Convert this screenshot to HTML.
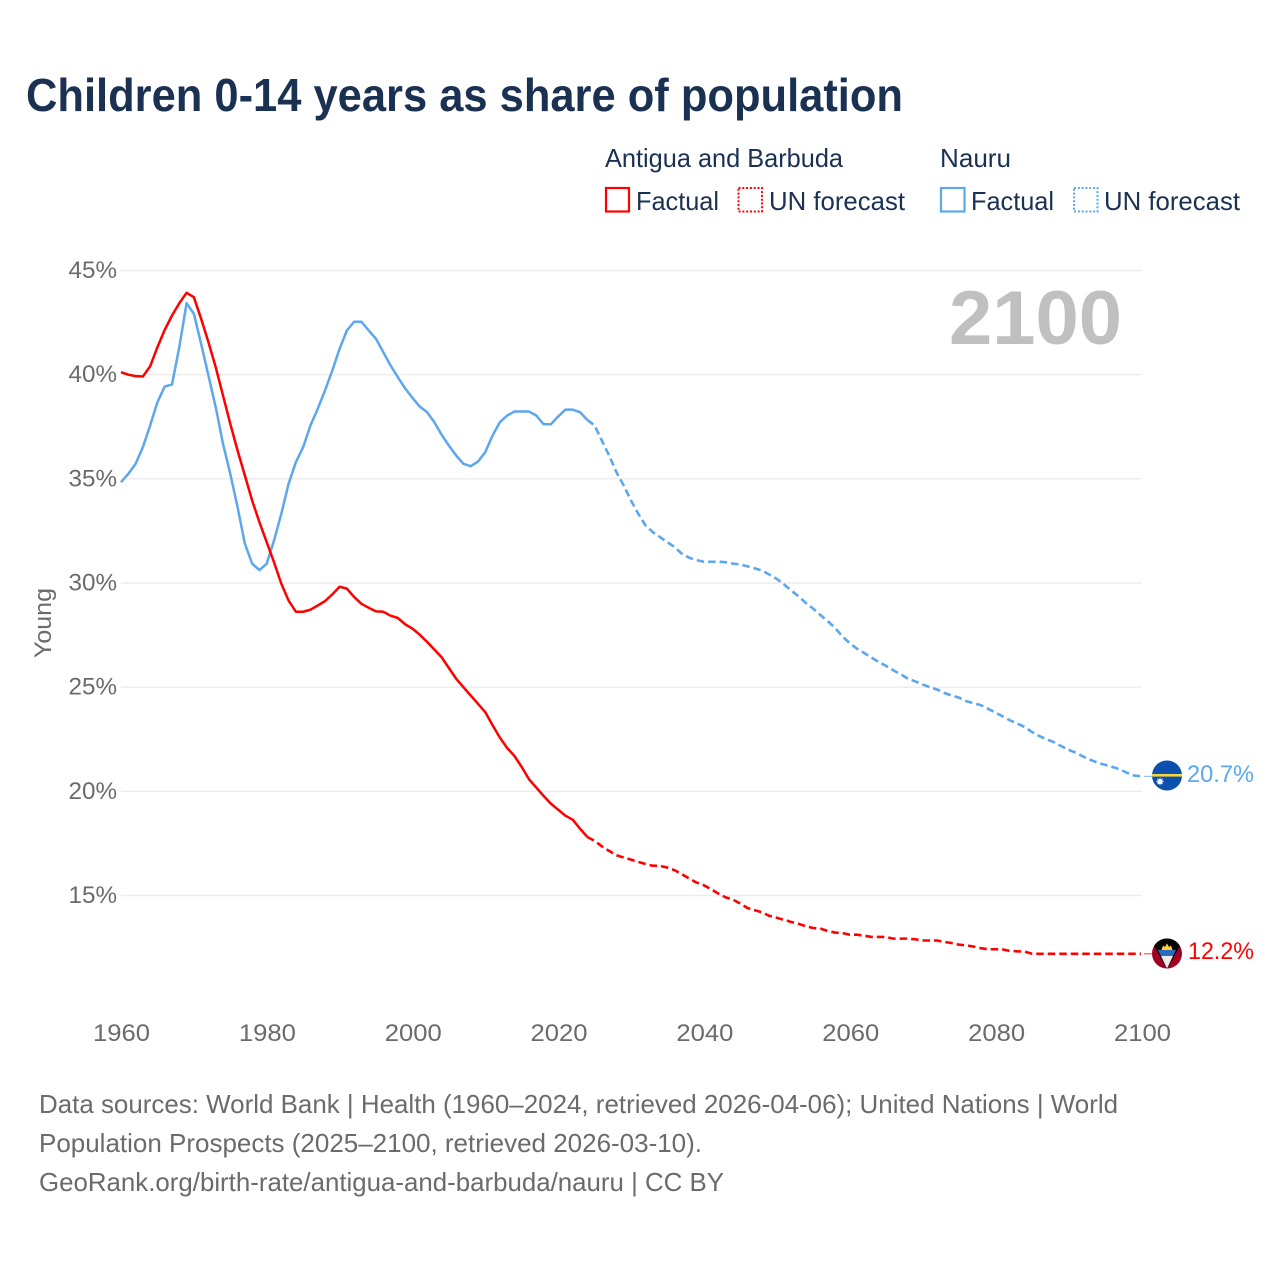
<!DOCTYPE html>
<html lang="en">
<head>
<meta charset="utf-8">
<title>Children 0-14 years as share of population</title>
<style>
html,body{margin:0;padding:0;background:#fff;width:1280px;height:1280px;overflow:hidden}
svg{display:block}
text{font-family:"Liberation Sans",sans-serif}
</style>
</head>
<body>
<svg id="chart" xmlns="http://www.w3.org/2000/svg" width="1280" height="1280" viewBox="0 0 1280 1280">
  <defs>
    <clipPath id="flag-clip-nauru"><circle cx="1167" cy="775.5" r="15"/></clipPath>
    <clipPath id="flag-clip-antigua"><circle cx="1167" cy="953.5" r="15"/></clipPath>
  </defs>
  <text x="26" y="111" font-size="46" font-weight="700" fill="#1a3152" textLength="877" lengthAdjust="spacingAndGlyphs">Children 0-14 years as share of population</text>

  <g>
    <text x="605" y="167" font-size="26" fill="#1a3152" textLength="238" lengthAdjust="spacingAndGlyphs">Antigua and Barbuda</text>
    <text x="940" y="167" font-size="26" fill="#1a3152" textLength="71" lengthAdjust="spacingAndGlyphs">Nauru</text>
    <rect x="606" y="188" width="23" height="23.5" fill="none" stroke="#ff0000" stroke-width="2.2"/>
    <text x="636" y="210" font-size="26" fill="#1a3152" textLength="83" lengthAdjust="spacingAndGlyphs">Factual</text>
    <rect x="738.5" y="188" width="23.5" height="23.5" fill="none" stroke="#ff0000" stroke-width="2" stroke-dasharray="2 1.8"/>
    <text x="769" y="210" font-size="26" fill="#1a3152" textLength="136" lengthAdjust="spacingAndGlyphs">UN forecast</text>
    <rect x="941" y="188" width="23.5" height="23.5" fill="none" stroke="#5ca7ee" stroke-width="2.2"/>
    <text x="971" y="210" font-size="26" fill="#1a3152" textLength="83" lengthAdjust="spacingAndGlyphs">Factual</text>
    <rect x="1074" y="188" width="23.5" height="23.5" fill="none" stroke="#5ca7ee" stroke-width="2" stroke-dasharray="2 1.8"/>
    <text x="1104" y="210" font-size="26" fill="#1a3152" textLength="136" lengthAdjust="spacingAndGlyphs">UN forecast</text>
  </g>

  <g id="grid"></g>
  <g id="y-ticks"></g>
  <g id="x-ticks"></g>
  <text transform="translate(51,623) rotate(-90)" text-anchor="middle" font-size="24" fill="#6b6b6b" textLength="70" lengthAdjust="spacingAndGlyphs">Young</text>
  <text x="949" y="344" font-size="76" font-weight="700" fill="#c0c0c0" textLength="173" lengthAdjust="spacingAndGlyphs">2100</text>

  <g id="series"></g>

  <g clip-path="url(#flag-clip-nauru)">
    <rect x="1152" y="760" width="30" height="31" fill="#0b50ad"/>
    <rect x="1152" y="774" width="30" height="2.6" fill="#f8d33c"/>
    <circle cx="1160" cy="781.500" r="2.6" fill="#ffffff"/>
    <path d="M1160 777.700V785.300M1156.200 781.500H1163.800M1157.300 778.800L1162.700 784.200M1162.700 778.800L1157.300 784.200" stroke="#ffffff" stroke-width="0.8"/>
  </g>
  <g clip-path="url(#flag-clip-antigua)">
    <rect x="1152" y="938" width="30" height="31" fill="#a00024"/>
    <path d="M1152 938H1182V942L1167 969L1152 942Z" fill="#050505"/>
    <path d="M1158 950H1176L1173 956H1161Z" fill="#2c6cc0"/>
    <path d="M1161 956H1173L1167 968.500Z" fill="#ececec"/>
    <path d="M1161.500 950L1163 945.500L1165 947L1167 943.500L1169 947L1171 945.500L1172.500 950Z" fill="#fdcf3f"/>
  </g>

  <text id="value-label-nauru" x="1187" y="782" font-size="24" fill="#5ca7ee" textLength="67" lengthAdjust="spacingAndGlyphs">20.7%</text>
  <text id="value-label-antigua" x="1188" y="959" font-size="24" fill="#ff0000" textLength="66" lengthAdjust="spacingAndGlyphs">12.2%</text>

  <g fill="#6b6b6b" font-size="26">
    <text x="39" y="1113" textLength="1079" lengthAdjust="spacingAndGlyphs">Data sources: World Bank | Health (1960–2024, retrieved 2026-04-06); United Nations | World</text>
    <text x="39" y="1152" textLength="663" lengthAdjust="spacingAndGlyphs">Population Prospects (2025–2100, retrieved 2026-03-10).</text>
    <text x="39" y="1191" textLength="685" lengthAdjust="spacingAndGlyphs">GeoRank.org/birth-rate/antigua-and-barbuda/nauru | CC BY</text>
  </g>
</svg>
<script>
const yTicks = [15, 20, 25, 30, 35, 40, 45];
const xTicks = [1960, 1980, 2000, 2020, 2040, 2060, 2080, 2100];
const factualStartYear = 1960;
const forecastStartYear = 2025;
const antiguaFactual = [40.12,40.0,39.93,39.91,40.4,41.32,42.15,42.84,43.43,43.93,43.72,42.68,41.56,40.36,39.0,37.64,36.36,35.16,33.96,32.92,31.96,31.0,29.97,29.16,28.62,28.62,28.72,28.92,29.13,29.45,29.82,29.73,29.33,29.0,28.81,28.64,28.62,28.43,28.32,28.02,27.81,27.52,27.18,26.81,26.44,25.92,25.41,25.0,24.6,24.2,23.8,23.17,22.58,22.08,21.7,21.17,20.58,20.18,19.78,19.41,19.12,18.83,18.64,18.21,17.81];
const antiguaForecast = [17.62,17.36,17.14,16.93,16.82,16.72,16.61,16.51,16.43,16.42,16.34,16.21,16.02,15.81,15.62,15.49,15.3,15.09,14.91,14.8,14.61,14.4,14.29,14.19,14.02,13.93,13.83,13.73,13.64,13.52,13.44,13.41,13.3,13.22,13.2,13.12,13.12,13.07,13.01,13.01,13.01,12.93,12.93,12.93,12.9,12.84,12.84,12.84,12.77,12.72,12.64,12.61,12.55,12.47,12.42,12.42,12.41,12.34,12.32,12.31,12.21,12.2,12.2,12.2,12.2,12.2,12.2,12.2,12.2,12.2,12.2,12.2,12.2,12.2,12.2,12.2];
const nauruFactual = [34.84,35.24,35.72,36.52,37.56,38.68,39.43,39.53,41.32,43.43,42.92,41.48,39.96,38.44,36.68,35.24,33.64,31.89,30.93,30.62,30.93,32.04,33.32,34.76,35.8,36.52,37.56,38.36,39.24,40.2,41.24,42.12,42.54,42.54,42.12,41.72,41.08,40.44,39.88,39.34,38.89,38.47,38.2,37.72,37.12,36.6,36.12,35.72,35.61,35.83,36.28,37.08,37.72,38.04,38.23,38.23,38.23,38.04,37.62,37.62,37.99,38.32,38.32,38.2,37.83];
const nauruForecast = [37.56,36.84,36.12,35.32,34.68,33.96,33.32,32.76,32.44,32.2,31.96,31.72,31.4,31.21,31.1,31.02,31.02,31.02,31.0,30.93,30.89,30.8,30.7,30.6,30.4,30.2,29.93,29.64,29.36,29.04,28.77,28.46,28.17,27.85,27.44,27.12,26.85,26.64,26.42,26.21,26.02,25.81,25.62,25.41,25.28,25.13,25.0,24.89,24.72,24.6,24.5,24.33,24.23,24.14,23.96,23.79,23.6,23.41,23.26,23.09,22.86,22.66,22.5,22.37,22.18,22.0,21.86,21.68,21.52,21.38,21.28,21.18,21.07,20.9,20.76,20.72];

const NS = 'http://www.w3.org/2000/svg';
const xScale = function (year) { return 121 + (year - 1960) * (1020 / 140); };
const yScale = function (value) { return 270.5 + (45 - value) * (625 / 30); };

const gridLayer = document.getElementById('grid');
const yLayer = document.getElementById('y-ticks');
const xLayer = document.getElementById('x-ticks');
const seriesLayer = document.getElementById('series');

yTicks.forEach(function (tick) {
  const line = document.createElementNS(NS, 'line');
  
  
  line.setAttribute('x1', 121);
  line.setAttribute('x2', 1141.5);
  line.setAttribute('y1', yScale(tick));
  line.setAttribute('y2', yScale(tick));
  line.setAttribute('stroke', '#ececec');
  line.setAttribute('stroke-width', '1.4');
  gridLayer.appendChild(line);
  const label = document.createElementNS(NS, 'text');
  
  
  label.setAttribute('x', 68.5);
  label.setAttribute('y', yScale(tick) + 7.5);
  label.setAttribute('font-size', '24');
  label.setAttribute('fill', '#6b6b6b');
  label.setAttribute('textLength', '48.5');
  label.setAttribute('lengthAdjust', 'spacingAndGlyphs');
  label.textContent = tick + '%';
  yLayer.appendChild(label);
});

xTicks.forEach(function (tick) {
  const label = document.createElementNS(NS, 'text');
  
  
  label.setAttribute('x', xScale(tick) - 28 + (tick - 1960) / 140);
  label.setAttribute('y', 1041);
  label.setAttribute('font-size', '24');
  label.setAttribute('fill', '#6b6b6b');
  label.setAttribute('textLength', '57');
  label.setAttribute('lengthAdjust', 'spacingAndGlyphs');
  label.textContent = tick;
  xLayer.appendChild(label);
});

function linePath(values, startYear, prefixYear, prefixValue) {
  const pts = [];
  if (prefixYear !== null) {
    pts.push(xScale(prefixYear).toFixed(2) + ',' + yScale(prefixValue).toFixed(2));
  }
  values.forEach(function (v, i) {
    pts.push(xScale(startYear + i).toFixed(2) + ',' + yScale(v).toFixed(2));
  });
  return 'M' + pts.join('L');
}

function addFactual(values, color) {
  const path = document.createElementNS(NS, 'path');
  
  
  path.setAttribute('d', linePath(values, factualStartYear, null, 0));
  path.setAttribute('fill', 'none');
  path.setAttribute('stroke', color);
  path.setAttribute('stroke-width', '2.5');
  path.setAttribute('stroke-linejoin', 'round');
  seriesLayer.appendChild(path);
}

function addForecast(values, lastFactual, color) {
  const path = document.createElementNS(NS, 'path');
  
  
  path.setAttribute('d', linePath(values, forecastStartYear, forecastStartYear - 1, lastFactual));
  path.setAttribute('fill', 'none');
  path.setAttribute('stroke', color);
  path.setAttribute('stroke-width', '2.6');
  path.setAttribute('stroke-dasharray', '7.5 4');
  path.setAttribute('stroke-linejoin', 'round');
  seriesLayer.appendChild(path);
  const connector = document.createElementNS(NS, 'line');
  
  
  const lastValue = values[values.length - 1];
  connector.setAttribute('x1', xScale(2100) + 3);
  connector.setAttribute('x2', 1152);
  connector.setAttribute('y1', yScale(lastValue));
  connector.setAttribute('y2', yScale(lastValue));
  connector.setAttribute('stroke', color);
  connector.setAttribute('stroke-width', '1');
  connector.setAttribute('opacity', '0.8');
  seriesLayer.appendChild(connector);
}

addFactual(nauruFactual, '#5ca7ee');
addForecast(nauruForecast, nauruFactual[nauruFactual.length - 1], '#5ca7ee');
addFactual(antiguaFactual, '#ff0000');
addForecast(antiguaForecast, antiguaFactual[antiguaFactual.length - 1], '#ff0000');
</script>
</body>
</html>
